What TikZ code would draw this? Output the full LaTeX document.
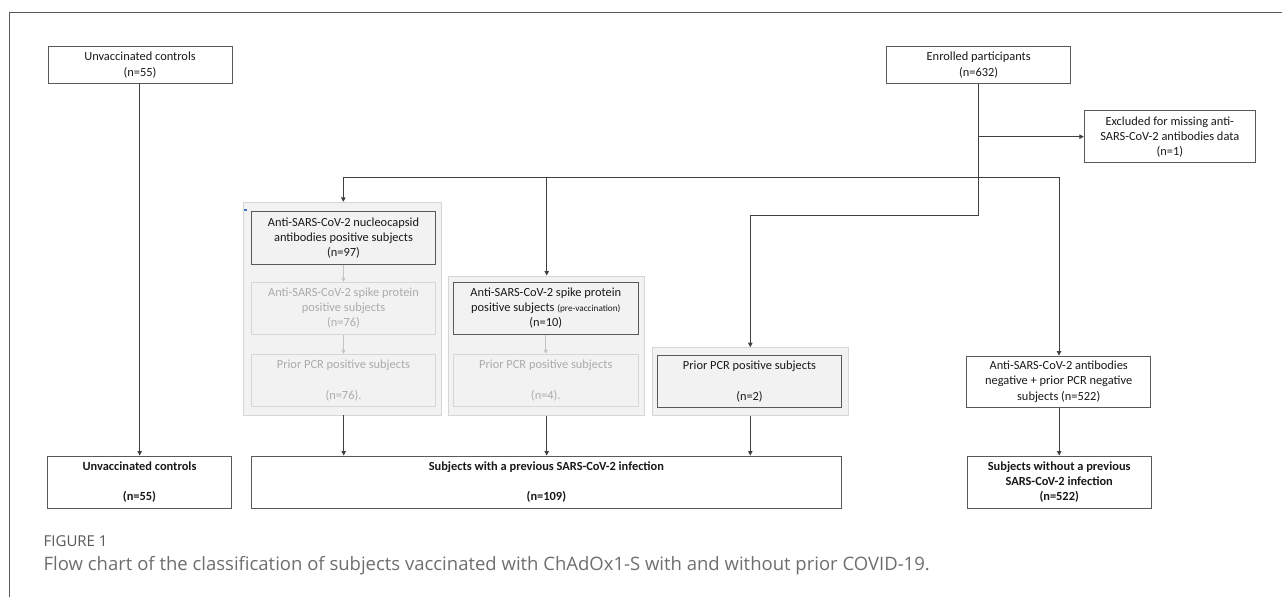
\documentclass[tikz,border=0pt]{standalone}
\usepackage{fontspec}
\setmainfont{Carlito}
\newfontfamily\capfont{Open Sans}
\usetikzlibrary{arrows.meta}
\definecolor{linec}{HTML}{404040}
\definecolor{boxc}{HTML}{595959}
\definecolor{fillc}{HTML}{F2F2F2}
\definecolor{fadeb}{HTML}{D6D6D6}
\definecolor{fadet}{HTML}{ABABAB}
\definecolor{fadea}{HTML}{C4C4C4}
\definecolor{capa}{HTML}{58595B}
\definecolor{capb}{HTML}{6D6E70}
\definecolor{bluem}{HTML}{4472C4}
\tikzset{
  box/.style={draw=boxc, line width=1pt, fill=white, align=center, inner sep=0pt,
    font=\fontsize{12.4}{15.2}\selectfont, text=black!90},
  bbox/.style={box, font=\bfseries\fontsize{12.4}{15.2}\selectfont},
  dbox/.style={box, fill=fillc},
  fbox/.style={box, draw=fadeb, fill=fillc, text=fadet},
  obox/.style={draw=fadeb, line width=1pt, fill=fillc, inner sep=0pt},
  conn/.style={draw=linec, line width=0.9pt},
  arr/.style={conn, -{Triangle[length=4.5pt,width=4.5pt]}},
  farr/.style={draw=fadea, line width=0.9pt, -{Triangle[length=4pt,width=4pt]}},
}
\begin{document}
\begin{tikzpicture}[x=1pt,y=-1pt]
\useasboundingbox (0,0) rectangle (1282,597);
% frame
\coordinate (fa) at (9.3,597);
\coordinate (fb) at (9.3,12.3);
\coordinate (fc) at (1282,12.3);
\draw[draw=boxc, line width=1.1pt] (fa) -- (fb) -- (fc);

% top boxes
\node[box, minimum width=184pt, minimum height=36.6pt] (uct) at (140,65) {Unvaccinated controls\\(n=55)};
\node[box, minimum width=184pt, minimum height=36.6pt] (enr) at (978.7,65) {Enrolled participants\\(n=632)};
\node[box, minimum width=171pt, minimum height=51.7pt] (exc) at (1169.8,136.8) {Excluded for missing anti-\\SARS-CoV-2 antibodies data\\(n=1)};

% group 1
\node[obox, minimum width=197.7pt, minimum height=212.7pt] (g1) at (342.8,308.7) {};
\node[dbox, minimum width=184.4pt, minimum height=53pt] (n1) at (343.5,237.8) {Anti-SARS-CoV-2 nucleocapsid\\antibodies positive subjects\\(n=97)};
\node[fbox, minimum width=184.4pt, minimum height=52pt] (s1) at (343.5,308.3) {Anti-SARS-CoV-2 spike protein\\positive subjects\\(n=76)};
\node[fbox, minimum width=184.4pt, minimum height=52.4pt] (p1) at (343.5,380.5) {Prior PCR positive subjects\\[15.2pt](n=76).};
\node[fill=bluem, minimum size=2.2pt, inner sep=0pt] (bm) at (245.5,210.3) {};

% group 2
\node[obox, minimum width=196pt, minimum height=139pt] (g2) at (546.3,345.5) {};
\node[dbox, minimum width=185pt, minimum height=52pt] (sp) at (545.8,308.3) {Anti-SARS-CoV-2 spike protein\\positive subjects {\fontsize{9.2}{10}\selectfont(pre-vaccination)}\\(n=10)};
\node[fbox, minimum width=185pt, minimum height=52.4pt] (p2) at (545.8,380.5) {Prior PCR positive subjects\\[15.2pt](n=4).};

% group 3
\node[obox, minimum width=196pt, minimum height=68.3pt] (g3) at (750.3,381.8) {};
\node[dbox, minimum width=184.4pt, minimum height=52pt] (pcr) at (749.5,381.7) {Prior PCR positive subjects\\[15.2pt](n=2)};

% negative
\node[box, minimum width=184pt, minimum height=51.3pt] (neg) at (1058.7,381.7) {Anti-SARS-CoV-2 antibodies\\negative + prior PCR negative\\subjects (n=522)};

% bottom boxes
\node[bbox, minimum width=184.4pt, minimum height=52.3pt] (ucb) at (139.5,482.2) {Unvaccinated controls\\[15.2pt](n=55)};
\node[bbox, minimum width=589.5pt, minimum height=52.3pt] (big) at (546.4,482.2) {Subjects with a previous SARS-CoV-2 infection\\[15.2pt](n=109)};
\node[bbox, minimum width=183.7pt, minimum height=52.3pt] (wo) at (1059.2,482.2) {Subjects without a previous\\SARS-CoV-2 infection\\(n=522)};

% connectors
\coordinate (ua) at (139.7,83.3);
\draw[arr] (ua) -- (ua |- ucb.north);
\coordinate (hL) at (343.3,177.3);
\coordinate (hM) at (546.7,177.3);
\coordinate (hE) at (978.7,177.3);
\coordinate (hR) at (1059,177.3);
\coordinate (eX) at (978.7,136.7);
\coordinate (d1) at (978.7,215);
\coordinate (d2) at (750.3,215);
\draw[conn] (enr.south) -- (d1) -- (d2);
\draw[arr] (d2) -- (g3.north);
\draw[arr] (eX) -- (exc.west |- eX);
\draw[conn, line width=1.2pt] (hL) -- (hE);
\draw[conn] (hE) -- (hR);
\draw[arr] (hL) -- (hL |- g1.north);
\draw[arr] (hM) -- (hM |- g2.north);
\draw[arr] (hR) -- (hR |- neg.north);
\draw[farr] (n1.south) -- (s1.north);
\draw[farr] (s1.south) -- (p1.north);
\draw[farr] (sp.south) -- (p2.north);
\coordinate (b1) at (343.7,415);
\draw[arr] (b1) -- (b1 |- big.north);
\draw[arr] (g2.south -| hM) -- (hM |- big.north);
\draw[arr] (g3.south) -- (g3.south |- big.north);
\draw[arr] (neg.south -| wo.north) -- (wo.north);

% caption
\node[anchor=base west, inner sep=0pt, font=\capfont\fontsize{15}{17}\selectfont, text=capa] (fig) at (43.5,546.7) {FIGURE 1};
\node[anchor=base west, inner sep=0pt, font=\capfont\fontsize{18.5}{21}\selectfont, text=capb] (cap) at (43.5,570) {Flow chart of the classification of subjects vaccinated with ChAdOx1-S with and without prior COVID-19.};
\end{tikzpicture}
\end{document}
